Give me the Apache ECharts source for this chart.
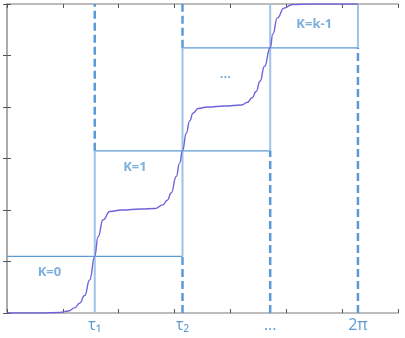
<!DOCTYPE html>
<html><head><meta charset="utf-8">
<script src="https://cdn.jsdelivr.net/npm/echarts@6/dist/echarts.min.js"></script>
<style>html,body{margin:0;padding:0;background:#fff}#c{width:405px;height:338px}</style>
</head><body><div id="c"></div>
<script>
// tick positions and labels on the x axis
const tauX = [1.571, 3.142, 4.712, 6.283];
const tauLabels = ['τ₁', 'τ₂', '...', '2π'];
// heights of the K boxes (horizontal lines)
const levelY = [1.1, 3.15, 5.15];
const kLabels = ['K=0', 'K=1', '...', 'K=k-1'];
const kLabelX = [0.76, 2.29, 3.91, 5.5];
const kLabelY = [0.80, 2.82, 4.63, 5.61];
// staircase curve
const curveX = [0, 0.6, 0.95, 1.1, 1.21, 1.3, 1.39, 1.48, 1.571, 1.63, 1.72, 1.84, 2.05, 2.4, 2.65, 2.79, 2.87, 2.94, 3.03, 3.09, 3.142, 3.21, 3.27, 3.33, 3.42, 3.59, 3.9, 4.2, 4.3, 4.39, 4.46, 4.53, 4.61, 4.712, 4.76, 4.84, 4.96, 5.11, 5.4, 6.283];
const curveY = [0, 0, 0.01, 0.04, 0.1, 0.19, 0.34, 0.64, 1.1, 1.48, 1.81, 1.97, 2.0, 2.02, 2.03, 2.1, 2.19, 2.33, 2.65, 2.91, 3.15, 3.49, 3.73, 3.88, 3.97, 4.0, 4.02, 4.04, 4.09, 4.18, 4.3, 4.5, 4.79, 5.15, 5.42, 5.73, 5.92, 5.99, 6.0, 6.0];
const yMax = 6;

const blue = '#5b9bd5';
const series = [];
function seg(x1, y1, x2, y2, style) {
  series.push({ type: 'line', data: [[x1, y1], [x2, y2]], symbol: 'none', lineStyle: style, silent: true, z: 2 });
}
const dashed = { color: blue, width: 2.5, type: [8, 4] };
const solidV = { color: '#9dc3e6', width: 2 };
const solidH = { color: blue, width: 1.2 };
// horizontal lines of each K box
levelY.forEach((y, i) => {
  const x1 = i === 0 ? 0 : tauX[i - 1];
  const x2 = tauX[i + 1];
  seg(x1, y, x2, y, solidH);
});
// vertical lines: solid inside the box span, dashed elsewhere
tauX.forEach((x, j) => {
  const lo = j - 1 >= 0 ? levelY[j - 1] : 0;
  const hi = j + 1 < levelY.length ? levelY[j + 1] : yMax;
  seg(x, lo, x, hi, solidV);
  if (lo > 0) seg(x, 0, x, lo, dashed);
  if (hi < yMax) seg(x, hi, x, yMax, dashed);
});
series.push({
  type: 'line', data: curveX.map((x, i) => [x, curveY[i]]), symbol: 'none',
  smooth: 0.5, smoothMonotone: 'x', lineStyle: { color: '#6f63da', width: 1.4 }, z: 3
});
series.push({
  type: 'scatter', symbolSize: 0, z: 4,
  data: kLabels.map((t, i) => ({ value: [kLabelX[i], kLabelY[i]], name: t })),
  label: { show: true, position: 'inside', formatter: p => p.name, color: blue,
    fontFamily: 'Open Sans', fontWeight: 'bold', fontSize: 13 }
});

const frameLine = { show: true, lineStyle: { color: '#a6a6a6', width: 1.5 } };
const tick = { show: true, inside: true, length: 4, lineStyle: { color: '#555', width: 1 } };
const chart = echarts.init(document.getElementById('c'), null, { renderer: 'canvas' });
chart.setOption({
  animation: false,
  grid: { left: 7, right: 7, top: 4, bottom: 25 },
  xAxis: [
    { type: 'value', min: 0, max: 7, interval: 1, position: 'bottom', axisLine: frameLine, axisTick: tick, axisLabel: { show: false }, splitLine: { show: false } },
    { type: 'value', min: 0, max: 7, position: 'bottom', axisLine: { show: false }, axisTick: { show: false }, splitLine: { show: false },
      axisLabel: { show: true, customValues: tauX, margin: 4, color: blue, fontFamily: 'Open Sans', fontSize: 16,
        formatter: v => { const i = tauX.indexOf(v); return i >= 0 ? tauLabels[i] : ''; } } },
    { type: 'value', min: 0, max: 7, interval: 1, position: 'top', axisLine: frameLine, axisTick: tick, axisLabel: { show: false }, splitLine: { show: false } }
  ],
  yAxis: [
    { type: 'value', min: 0, max: 6, interval: 1, position: 'left', axisLine: frameLine, axisTick: tick, axisLabel: { show: false }, splitLine: { show: false } },
    { type: 'value', min: 0, max: 6, interval: 1, position: 'right', axisLine: frameLine, axisTick: tick, axisLabel: { show: false }, splitLine: { show: false } }
  ],
  series: series
});
</script></body></html>
